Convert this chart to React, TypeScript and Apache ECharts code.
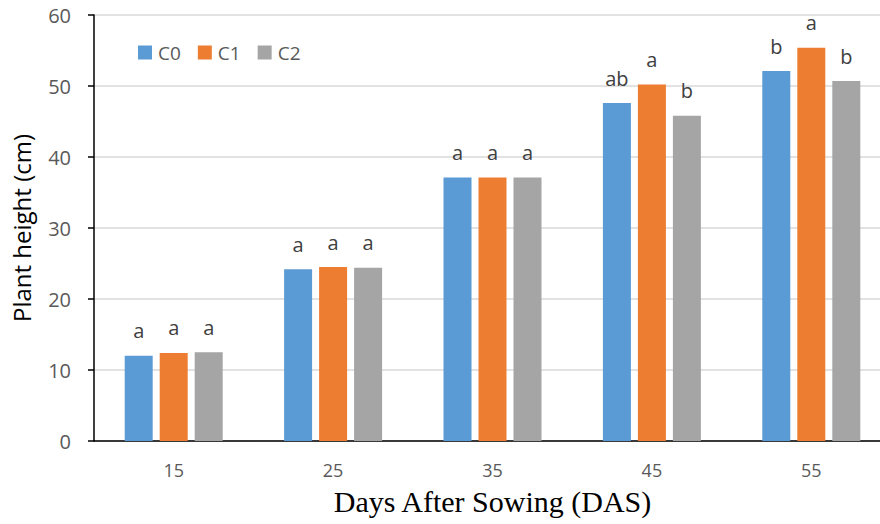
import React, { useEffect, useRef } from "react";
import * as echarts from "echarts";

const categories = ["15", "25", "35", "45", "55"];
const seriesNames = ["C0", "C1", "C2"];
const c0Values = [12.0, 24.2, 37.1, 47.6, 52.1];
const c1Values = [12.4, 24.5, 37.1, 50.2, 55.4];
const c2Values = [12.5, 24.4, 37.1, 45.8, 50.7];
const c0Letters = ["a", "a", "a", "ab", "b"];
const c1Letters = ["a", "a", "a", "a", "a"];
const c2Letters = ["a", "a", "a", "b", "b"];
const colors = ["#5B9BD5", "#ED7D31", "#A5A5A5"];

export default function App() {
  const ref = useRef<HTMLDivElement>(null);
  useEffect(() => {
    if (!ref.current) return;
    const chart = echarts.init(ref.current, null, { renderer: "svg" });
    const values = [c0Values, c1Values, c2Values];
    const letters = [c0Letters, c1Letters, c2Letters];
    chart.setOption({
      animation: false,
      backgroundColor: "#ffffff",
      legend: {
        left: 133,
        top: 38,
        itemWidth: 14,
        itemHeight: 14,
        itemGap: 17,
        icon: "rect",
        data: seriesNames,
        textStyle: { fontFamily: "Open Sans", fontSize: 19, color: "#595959", padding: [0, 0, 0, 1] },
      },
      grid: { left: 94, top: 15, bottom: 83, width: 797, containLabel: false, outerBoundsMode: "none" },
      xAxis: {
        type: "category",
        data: categories,
        name: "Days After Sowing (DAS)",
        nameLocation: "middle",
        nameGap: 45,
        nameTextStyle: { fontFamily: "Liberation Serif", fontSize: 30, color: "#000000" },
        axisLine: { lineStyle: { color: "#000000", width: 1.5 } },
        axisTick: { show: false },
        axisLabel: { fontFamily: "Open Sans", fontSize: 18, color: "#595959", margin: 20 },
      },
      yAxis: {
        type: "value",
        min: 0,
        max: 60,
        interval: 10,
        name: "Plant height (cm)",
        nameLocation: "middle",
        nameGap: 61,
        nameTextStyle: { fontFamily: "Open Sans", fontSize: 24, color: "#000000" },
        axisLine: { show: true, lineStyle: { color: "#000000", width: 1.5 } },
        axisTick: { show: true, length: 6, lineStyle: { color: "#000000", width: 1.5 } },
        axisLabel: { fontFamily: "Open Sans", fontSize: 20, color: "#595959", margin: 23 },
        splitLine: { lineStyle: { color: "#D9D9D9", width: 1.5 } },
      },
      series: seriesNames.map((name, i) => ({
        name,
        type: "bar",
        barWidth: 28,
        barGap: "25%",
        itemStyle: { color: colors[i] },
        label: {
          show: true,
          position: "top",
          distance: 15,
          fontFamily: "Open Sans",
          fontSize: 20,
          color: "#404040",
          formatter: (p: any) => letters[i][p.dataIndex],
        },
        data: values[i],
      })),
    });
    return () => chart.dispose();
  }, []);
  return (
    <div
      ref={ref}
      style={{ position: "fixed", left: 0, top: 0, width: 880, height: 524, overflow: "hidden" }}
    />
  );
}
